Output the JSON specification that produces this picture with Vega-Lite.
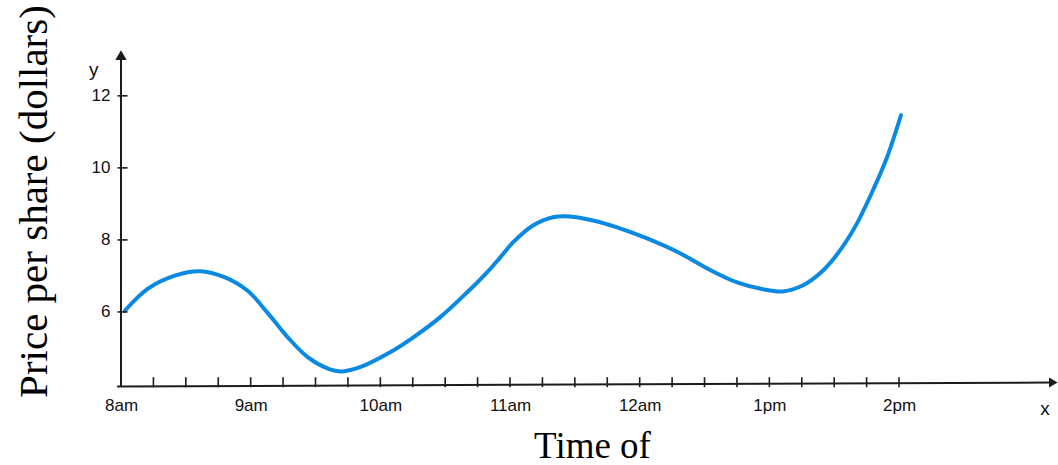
{
  "$schema": "https://vega.github.io/schema/vega-lite/v6.json",
  "width": 937,
  "height": 335,
  "autosize": {"type": "none"},
  "padding": {"left": 121, "top": 49, "right": 0, "bottom": 81},
  "background": "white",
  "config": {"view": {"stroke": null}},
  "datasets": {
    "price": [
      {"time": 8.031, "price": 6.04},
      {"time": 8.208, "price": 6.65},
      {"time": 8.416, "price": 7.01},
      {"time": 8.609, "price": 7.13},
      {"time": 8.802, "price": 6.96},
      {"time": 8.979, "price": 6.58},
      {"time": 9.134, "price": 5.96},
      {"time": 9.288, "price": 5.29},
      {"time": 9.442, "price": 4.74},
      {"time": 9.596, "price": 4.43},
      {"time": 9.704, "price": 4.35},
      {"time": 9.859, "price": 4.49},
      {"time": 10.075, "price": 4.88},
      {"time": 10.252, "price": 5.29},
      {"time": 10.460, "price": 5.85},
      {"time": 10.668, "price": 6.54},
      {"time": 10.823, "price": 7.10},
      {"time": 10.923, "price": 7.51},
      {"time": 11.023, "price": 7.93},
      {"time": 11.177, "price": 8.40},
      {"time": 11.332, "price": 8.63},
      {"time": 11.463, "price": 8.65},
      {"time": 11.640, "price": 8.54},
      {"time": 11.825, "price": 8.35},
      {"time": 12.057, "price": 8.04},
      {"time": 12.311, "price": 7.63},
      {"time": 12.519, "price": 7.21},
      {"time": 12.751, "price": 6.82},
      {"time": 12.951, "price": 6.63},
      {"time": 13.105, "price": 6.57},
      {"time": 13.260, "price": 6.74},
      {"time": 13.414, "price": 7.15},
      {"time": 13.545, "price": 7.71},
      {"time": 13.676, "price": 8.46},
      {"time": 13.799, "price": 9.38},
      {"time": 13.907, "price": 10.29},
      {"time": 14.015, "price": 11.46}
    ],
    "xticks": [
      {"t": 8.25}, {"t": 8.5}, {"t": 8.75}, {"t": 9}, {"t": 9.25}, {"t": 9.5}, {"t": 9.75}, {"t": 10},
      {"t": 10.25}, {"t": 10.5}, {"t": 10.75}, {"t": 11}, {"t": 11.25}, {"t": 11.5}, {"t": 11.75}, {"t": 12},
      {"t": 12.25}, {"t": 12.5}, {"t": 12.75}, {"t": 13}, {"t": 13.25}, {"t": 13.5}, {"t": 13.75}, {"t": 14}
    ],
    "yticks": [{"v": 6}, {"v": 8}, {"v": 10}, {"v": 12}],
    "one": [{"k": 1}]
  },
  "layer": [
    {
      "data": {"name": "price"},
      "mark": {"type": "line", "interpolate": "catmull-rom", "strokeWidth": 4, "color": "#0a89e2", "strokeCap": "round"},
      "encoding": {
        "x": {
          "field": "time", "type": "quantitative",
          "scale": {"domain": [8, 15.226], "nice": false, "zero": false},
          "axis": {
            "values": [8, 9, 10, 11, 12, 13, 14],
            "labelExpr": "datum.value == 8 ? '8am' : datum.value == 9 ? '9am' : datum.value == 10 ? '10am' : datum.value == 11 ? '11am' : datum.value == 12 ? '12am' : datum.value == 13 ? '1pm' : '2pm'",
            "domain": false, "ticks": false, "grid": false,
            "labelFont": "Liberation Sans", "labelFontSize": 17, "labelColor": "#111",
            "labelPadding": 13, "labelFlush": false,
            "title": "Time of",
            "titleFont": "Liberation Serif", "titleFontSize": 37, "titleFontWeight": "normal",
            "titleColor": "#000", "titleX": 471, "titleY": 73, "titleBaseline": "alphabetic"
          }
        },
        "y": {
          "field": "price", "type": "quantitative",
          "scale": {"domain": [4, 13.3], "nice": false, "zero": false},
          "axis": {
            "values": [6, 8, 10, 12],
            "domain": false, "ticks": false, "grid": false,
            "labelFont": "Liberation Sans", "labelFontSize": 17, "labelColor": "#111",
            "labelPadding": 11,
            "title": "Price per share (dollars)",
            "titleFont": "Liberation Serif", "titleFontSize": 41, "titleFontWeight": "normal",
            "titleColor": "#000", "titleX": -75, "titleY": 152, "titleBaseline": "alphabetic", "titleAngle": -90
          }
        }
      }
    },
    {
      "data": {"name": "one"},
      "mark": {"type": "rule", "color": "#1c1c1c", "strokeWidth": 2},
      "encoding": {
        "x": {"datum": 8, "type": "quantitative"},
        "y": {"datum": 3.93, "type": "quantitative"},
        "y2": {"datum": 13.2}
      }
    },
    {
      "data": {"name": "one"},
      "mark": {"type": "rule", "color": "#1c1c1c", "strokeWidth": 2},
      "encoding": {
        "x": {"datum": 7.97, "type": "quantitative"},
        "x2": {"datum": 15.17},
        "y": {"datum": 3.93, "type": "quantitative"},
        "y2": {"datum": 4.04}
      }
    },
    {
      "data": {"name": "xticks"},
      "mark": {"type": "tick", "orient": "vertical", "size": 10, "thickness": 1.6, "color": "#1c1c1c", "opacity": 1},
      "encoding": {
        "x": {"field": "t", "type": "quantitative"},
        "y": {"datum": 4.05, "type": "quantitative"}
      }
    },
    {
      "data": {"name": "yticks"},
      "mark": {"type": "tick", "orient": "horizontal", "size": 10, "thickness": 1.6, "color": "#1c1c1c", "opacity": 1},
      "encoding": {
        "x": {"datum": 8.012, "type": "quantitative"},
        "y": {"field": "v", "type": "quantitative"}
      }
    },
    {
      "data": {"name": "one"},
      "mark": {"type": "point", "shape": "triangle-up", "filled": true, "size": 130, "color": "#1c1c1c", "opacity": 1},
      "encoding": {
        "x": {"datum": 8, "type": "quantitative"},
        "y": {"datum": 13.13, "type": "quantitative"}
      }
    },
    {
      "data": {"name": "one"},
      "mark": {"type": "point", "shape": "triangle-right", "filled": true, "size": 100, "color": "#1c1c1c", "opacity": 1},
      "encoding": {
        "x": {"datum": 15.19, "type": "quantitative"},
        "y": {"datum": 4.04, "type": "quantitative"}
      }
    },
    {
      "data": {"name": "one"},
      "mark": {"type": "text", "text": "y", "font": "Liberation Sans", "fontSize": 19, "color": "#111", "baseline": "middle", "align": "center"},
      "encoding": {
        "x": {"datum": 7.79, "type": "quantitative"},
        "y": {"datum": 12.72, "type": "quantitative"}
      }
    },
    {
      "data": {"name": "one"},
      "mark": {"type": "text", "text": "x", "font": "Liberation Sans", "fontSize": 19, "color": "#111", "baseline": "middle", "align": "center"},
      "encoding": {
        "x": {"datum": 15.126, "type": "quantitative"},
        "y": {"datum": 3.3, "type": "quantitative"}
      }
    }
  ]
}
